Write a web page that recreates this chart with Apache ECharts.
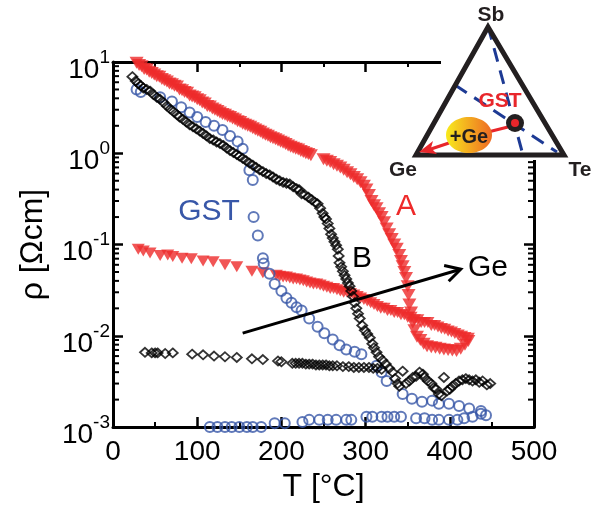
<!DOCTYPE html>
<html>
<head>
<meta charset="utf-8">
<script src="https://cdn.jsdelivr.net/npm/echarts@6/dist/echarts.min.js"></script>
<style>html,body{margin:0;padding:0;background:#fff}#c{width:608px;height:508px}</style>
</head>
<body>
<div id="c"></div>
<script>
// ---- data (T [°C], rho [Ohm cm]) ----
const seriesA_heating = [[28,9.8],[31,9.3],[34,9.0],[37,8.4],[40,8.3],[43,7.8],[46,7.6],[49,7.3],[52,7.0],[55,6.9],[58,6.5],[61,6.3],[64,6.1],[67,5.8],[70,5.7],[73,5.5],[76,5.4],[79,5.0],[82,4.9],[85,4.7],[88,4.6],[91,4.3],[94,4.2],[97,4.1],[100,3.9],[103,3.8],[106,3.6],[109,3.5],[112,3.3],[115,3.25],[118,3.1],[121,3.0],[124,2.9],[127,2.8],[130,2.7],[133,2.65],[136,2.55],[139,2.5],[142,2.4],[145,2.35],[148,2.25],[151,2.2],[154,2.1],[157,2.05],[160,2.0],[163,1.95],[166,1.88],[169,1.82],[172,1.76],[175,1.72],[178,1.65],[181,1.6],[184,1.56],[187,1.5],[190,1.46],[193,1.42],[196,1.38],[199,1.34],[202,1.3],[205,1.26],[208,1.22],[211,1.18],[214,1.15],[217,1.12],[220,1.1],[223,1.06],[226,1.03],[229,1.0],[232,0.98],[235,0.95],[250,0.86],[254,0.83],[258,0.8],[262,0.76],[266,0.73],[270,0.7],[274,0.66],[278,0.62],[282,0.59],[286,0.55],[290,0.52],[294,0.48],[298,0.44],[301,0.4],[304,0.35],[307,0.3],[310,0.27],[313,0.25],[316,0.22],[319,0.2],[322,0.175],[325,0.15],[328,0.13],[331,0.115],[334,0.1],[337,0.09],[340,0.077],[342,0.066],[344,0.058],[346,0.05],[348,0.043],[350,0.035],[351,0.028],[352,0.022],[354,0.018],[356,0.014],[358,0.0115],[361,0.0098],[365,0.009],[369,0.0082],[373,0.0077],[378,0.0075],[383,0.0074],[388,0.0072],[393,0.0071],[398,0.007],[403,0.0069],[408,0.0068],[413,0.0072],[418,0.008],[422,0.0088]];
const seriesA_cooling = [[30,0.089],[36,0.085],[44,0.081],[56,0.076],[65,0.077],[71,0.074],[82,0.071],[93,0.07],[107,0.066],[119,0.065],[133,0.06],[147,0.057],[165,0.051],[178,0.049],[194,0.046],[198,0.045],[202,0.044],[206,0.044],[210,0.043],[214,0.042],[218,0.042],[222,0.041],[226,0.04],[230,0.039],[234,0.038],[238,0.037],[242,0.037],[246,0.036],[250,0.035],[254,0.034],[258,0.033],[262,0.033],[266,0.032],[270,0.031],[274,0.03],[278,0.03],[282,0.029],[286,0.028],[290,0.027],[294,0.026],[298,0.025],[302,0.024],[306,0.023],[310,0.022],[314,0.021],[318,0.02],[322,0.02],[326,0.019],[330,0.019],[334,0.018],[338,0.018],[342,0.017],[346,0.017],[350,0.016],[354,0.016],[358,0.015],[362,0.015],[366,0.014],[370,0.014],[374,0.014],[378,0.013],[382,0.013],[386,0.0125],[390,0.012],[394,0.0118],[398,0.0113],[402,0.011],[406,0.0106],[410,0.0102],[414,0.0099],[418,0.0096],[422,0.0094]];
const seriesB_heating = [[23,6.9],[27,6.2],[30,5.8],[33,5.5],[36,5.2],[40,5.0],[44,4.8],[48,4.4],[52,4.1],[56,3.9],[60,3.6],[64,3.3],[68,3.05],[72,2.85],[76,2.65],[79,2.5],[83,2.35],[87,2.2],[91,2.05],[95,1.95],[99,1.85],[103,1.75],[107,1.65],[111,1.55],[115,1.45],[119,1.4],[123,1.33],[127,1.28],[131,1.22],[135,1.14],[139,1.07],[143,1.02],[147,0.97],[150,0.93],[154,0.88],[158,0.83],[162,0.78],[166,0.74],[170,0.7],[174,0.66],[178,0.63],[182,0.6],[186,0.58],[190,0.55],[194,0.52],[198,0.5],[202,0.48],[206,0.47],[210,0.46],[214,0.43],[218,0.41],[221,0.4],[224,0.36],[228,0.35],[232,0.33],[236,0.31],[240,0.29],[243,0.28],[246,0.25],[249,0.22],[251,0.2],[253,0.19],[255,0.17],[257,0.15],[259,0.13],[261,0.118],[263,0.107],[265,0.098],[267,0.089],[268,0.075],[269,0.063],[271,0.057],[273,0.051],[275,0.046],[277,0.042],[279,0.038],[281,0.035],[283,0.031],[285,0.027],[287,0.023],[289,0.02],[291,0.0175],[293,0.0155],[296,0.013],[299,0.0115],[302,0.0105],[305,0.0095],[308,0.0082],[310,0.0074],[313,0.0066],[316,0.0059],[320,0.0054],[324,0.0049],[328,0.0044],[332,0.004],[335,0.0034],[338,0.003],[340,0.0028],[344,0.0041],[348,0.003],[352,0.0032],[356,0.0035],[360,0.0036],[364,0.004],[368,0.0038],[370,0.0035],[374,0.0032],[378,0.003],[381,0.0027],[384,0.0026],[387,0.0023],[390,0.0022],[393,0.0035],[397,0.0025],[400,0.0026],[403,0.0028],[407,0.003],[411,0.0032],[415,0.0033],[419,0.0034],[423,0.0033],[427,0.0032],[431,0.0033],[435,0.0031],[439,0.0032],[444,0.0029],[448,0.003]];
const seriesB_cooling = [[38,0.0066],[46,0.0065],[50,0.0065],[53,0.0065],[62,0.0064],[71,0.0065],[94,0.0063],[107,0.0062],[120,0.006],[133,0.0059],[147,0.0058],[165,0.0056],[178,0.0055],[196,0.0053],[200,0.0052],[213,0.005],[217,0.005],[221,0.005],[225,0.005],[229,0.0049],[233,0.0049],[237,0.0049],[241,0.0048],[245,0.0048],[249,0.0048],[253,0.0048],[257,0.0047],[261,0.0047],[266,0.0047],[273,0.0046],[280,0.0046],[286,0.0045],[292,0.0045],[298,0.0045],[304,0.0045],[309,0.0044],[314,0.0044],[319,0.0043]];
const seriesGST_heating = [[28,5.0],[33,4.7],[56,4.1],[70,3.7],[81,3.2],[91,2.8],[100,2.5],[110,2.2],[120,2.0],[130,1.8],[139,1.55],[148,1.35],[154,1.12],[162,0.65],[166,0.51],[167,0.2],[172,0.126],[178,0.071],[179,0.062],[186,0.048],[192,0.037],[200,0.031],[206,0.026],[212,0.023],[218,0.0205],[224,0.019],[233,0.0155],[243,0.0126],[251,0.0107],[261,0.0091],[269,0.0079],[277,0.0071],[287,0.0067],[295,0.0063],[313,0.0047],[319,0.004],[325,0.0032],[344,0.0023],[355,0.00205],[367,0.0019],[379,0.00195],[387,0.0018],[399,0.0018],[411,0.0017],[423,0.0016],[437,0.0015],[443,0.00135]];
const seriesGST_cooling = [[115,0.001],[124,0.001],[133,0.001],[141,0.001],[150,0.001],[159,0.001],[166,0.001],[176,0.001],[192,0.0011],[204,0.0011],[225,0.00114],[233,0.0012],[245,0.0012],[255,0.0012],[265,0.0012],[277,0.0012],[283,0.0012],[301,0.0013],[308,0.0013],[319,0.0013],[326,0.0013],[334,0.0013],[342,0.0013],[360,0.00125],[370,0.00125],[379,0.0012],[387,0.0012],[399,0.0012],[409,0.0012],[417,0.00125],[427,0.0013],[437,0.0014]];
const geArrow = [[154, 0.0107, 413, 0.0537]];
const xTicks = [0, 100, 200, 300, 400, 500];
const yDecades = [0.001, 0.01, 0.1, 1];
const minorMultipliers = [2, 3, 4, 5, 6, 7, 8, 9];

const RED = '#ee2a2a', BLUE = '#3857a8', BLACK = '#000';
const FONT = 'Liberation Sans, Arial, Helvetica, sans-serif';

const minorTickValues = [];
yDecades.forEach(d => minorMultipliers.forEach(k => minorTickValues.push([0, k * d])));

const chart = echarts.init(document.getElementById('c'), null, {renderer: 'canvas'});

const xCommon = {
  type: 'value', min: xTicks[0], max: xTicks[xTicks.length - 1], interval: 100,
  axisLine: {show: true, onZero: false, lineStyle: {color: '#000', width: 3}},
  axisTick: {show: true, inside: true, length: 10, lineStyle: {color: '#000', width: 2.5}},
  minorTick: {show: true, splitNumber: 2, length: 5, lineStyle: {color: '#000', width: 2}},
  splitLine: {show: false}
};
const yCommon = {
  type: 'log', logBase: 10, min: 0.001, max: 10,
  axisLine: {show: true, onZero: false, lineStyle: {color: '#000', width: 3}},
  axisTick: {show: true, inside: true, length: 10, lineStyle: {color: '#000', width: 2.5}},
  splitLine: {show: false}
};

function hollow(color, w) { return {color: 'rgba(0,0,0,0)', borderColor: color, borderWidth: w}; }

const option = {
  backgroundColor: '#fff',
  animation: false,
  grid: {left: 113, right: 74, top: 62, bottom: 73, containLabel: false},
  xAxis: [
    Object.assign({}, xCommon, {
      position: 'bottom',
      name: 'T [°C]', nameLocation: 'middle', nameGap: 42,
      nameTextStyle: {fontSize: 32, fontFamily: FONT, color: '#000'},
      axisLabel: {show: true, fontSize: 28, fontFamily: FONT, color: '#000', margin: 11}
    }),
    Object.assign({}, xCommon, {position: 'top', axisLabel: {show: false}})
  ],
  yAxis: [
    Object.assign({}, yCommon, {
      position: 'left',
      name: 'ρ [Ωcm]', nameLocation: 'middle', nameGap: 64,
      nameTextStyle: {fontSize: 32, fontFamily: FONT, color: '#000'},
      axisLabel: {
        show: true, margin: 3, fontFamily: FONT, color: '#000', padding: [16, 0, 0, 0],
        formatter: function (v) { return '{b|10}{s|' + Math.round(Math.log10(v)) + '}'; },
        rich: {
          b: {fontSize: 28, lineHeight: 28, fontFamily: FONT, color: '#000', verticalAlign: 'bottom'},
          s: {fontSize: 19, lineHeight: 19, fontFamily: FONT, color: '#000', verticalAlign: 'bottom', padding: [0, 0, 17, 0]}
        }
      }
    }),
    Object.assign({}, yCommon, {position: 'right', axisLabel: {show: false}})
  ],
  series: [
    {
      type: 'custom', name: 'minorTicks', silent: true, z: 1, clip: false,
      data: minorTickValues,
      renderItem: function (params, api) {
        const v = api.value(1);
        const l = api.coord([0, v]);
        const r = api.coord([500, v]);
        return {type: 'group', children: [
          {type: 'line', shape: {x1: l[0], y1: l[1], x2: l[0] + 6, y2: l[1]}, style: {stroke: '#000', lineWidth: 2}},
          {type: 'line', shape: {x1: r[0] - 6, y1: r[1], x2: r[0], y2: r[1]}, style: {stroke: '#000', lineWidth: 2}}
        ]};
      }
    },
    {type: 'scatter', name: 'A heating', data: seriesA_heating, symbol: 'triangle', symbolRotate: 180, symbolSize: [14, 12], itemStyle: {color: RED}, z: 2},
    {type: 'scatter', name: 'A cooling', data: seriesA_cooling, symbol: 'triangle', symbolRotate: 180, symbolSize: [13, 11], itemStyle: {color: RED}, z: 2},
    {type: 'scatter', name: 'GST heating', data: seriesGST_heating, symbol: 'circle', symbolSize: 10, itemStyle: hollow(BLUE, 2), z: 3},
    {type: 'scatter', name: 'GST cooling', data: seriesGST_cooling, symbol: 'circle', symbolSize: 10, itemStyle: hollow(BLUE, 2), z: 3},
    {type: 'scatter', name: 'B heating', data: seriesB_heating, symbol: 'diamond', symbolSize: [10, 9], itemStyle: hollow(BLACK, 1.8), z: 4},
    {type: 'scatter', name: 'B cooling', data: seriesB_cooling, symbol: 'diamond', symbolSize: [10, 9], itemStyle: hollow(BLACK, 1.8), z: 4},
    {
      type: 'custom', name: 'Ge arrow', silent: true, z: 5, clip: false,
      data: geArrow,
      encode: {x: [0, 2], y: [1, 3]},
      renderItem: function (params, api) {
        const a = api.coord([api.value(0), api.value(1)]);
        const b = api.coord([api.value(2), api.value(3)]);
        const ang = Math.atan2(b[1] - a[1], b[0] - a[0]);
        const L = 17, w = 0.5;
        const p1 = [b[0] - L * Math.cos(ang - w), b[1] - L * Math.sin(ang - w)];
        const p2 = [b[0] - L * Math.cos(ang + w), b[1] - L * Math.sin(ang + w)];
        return {type: 'group', children: [
          {type: 'line', shape: {x1: a[0], y1: a[1], x2: b[0], y2: b[1]}, style: {stroke: '#000', lineWidth: 3}},
          {type: 'polyline', shape: {points: [p1, b, p2]}, style: {stroke: '#000', lineWidth: 3, fill: null}}
        ]};
      }
    }
  ],
  graphic: [
    {type: 'text', x: 209, y: 212, z: 10, style: {text: 'GST', fill: BLUE, font: '30px ' + FONT, textAlign: 'center', textVerticalAlign: 'middle'}},
    {type: 'text', x: 406, y: 207, z: 10, style: {text: 'A', fill: RED, font: '30px ' + FONT, textAlign: 'center', textVerticalAlign: 'middle'}},
    {type: 'text', x: 362, y: 259, z: 10, style: {text: 'B', fill: '#000', font: '30px ' + FONT, textAlign: 'center', textVerticalAlign: 'middle'}},
    {type: 'text', x: 488, y: 268, z: 10, style: {text: 'Ge', fill: '#000', font: '30px ' + FONT, textAlign: 'center', textVerticalAlign: 'middle'}},
    // inset
    {type: 'rect', z: 20, shape: {x: 441, y: 0, width: 167, height: 160}, style: {fill: '#fff'}},
    {type: 'line', z: 21, shape: {x1: 488, y1: 26, x2: 523, y2: 155}, style: {stroke: '#1d3a94', lineWidth: 3, lineDash: [14, 9]}},
    {type: 'line', z: 21, shape: {x1: 455, y1: 85, x2: 557, y2: 152}, style: {stroke: '#1d3a94', lineWidth: 3, lineDash: [14, 9]}},
    {type: 'polygon', z: 22, shape: {points: [[488, 27], [416, 155], [564, 155]]}, style: {stroke: '#231f20', lineWidth: 5, fill: null, lineJoin: 'miter'}},
    {type: 'line', z: 23, shape: {x1: 508, y1: 127, x2: 488, y2: 132}, style: {stroke: '#e8262b', lineWidth: 3}},
    {type: 'ellipse', z: 24, shape: {cx: 469, cy: 135, rx: 23, ry: 18}, style: {fill: new echarts.graphic.LinearGradient(0, 0, 1, 0, [{offset: 0, color: '#f8ea1c'}, {offset: 1, color: '#ee6a24'}])}},
    {type: 'text', z: 25, x: 469, y: 137, style: {text: '+Ge', fill: '#231f20', font: 'bold 20px ' + FONT, textAlign: 'center', textVerticalAlign: 'middle'}},
    {type: 'line', z: 23, shape: {x1: 449, y1: 143, x2: 431, y2: 149}, style: {stroke: '#e8262b', lineWidth: 3}},
    {type: 'polygon', z: 23, shape: {points: [[419, 152], [433, 141], [431, 148], [437, 154]]}, style: {fill: '#e8262b'}},
    {type: 'circle', z: 26, shape: {cx: 515, cy: 123, r: 9}, style: {fill: '#231f20'}},
    {type: 'circle', z: 27, shape: {cx: 515, cy: 123, r: 4}, style: {fill: '#e8262b'}},
    {type: 'text', z: 25, x: 500, y: 101, style: {text: 'GST', fill: '#e8262b', font: 'bold 21px ' + FONT, textAlign: 'center', textVerticalAlign: 'middle'}},
    {type: 'text', z: 25, x: 491, y: 15, style: {text: 'Sb', fill: '#231f20', font: 'bold 21px ' + FONT, textAlign: 'center', textVerticalAlign: 'middle'}},
    {type: 'text', z: 25, x: 403, y: 170, style: {text: 'Ge', fill: '#231f20', font: 'bold 21px ' + FONT, textAlign: 'center', textVerticalAlign: 'middle'}},
    {type: 'text', z: 25, x: 580, y: 170, style: {text: 'Te', fill: '#231f20', font: 'bold 21px ' + FONT, textAlign: 'center', textVerticalAlign: 'middle'}}
  ]
};
chart.setOption(option);
</script>
</body>
</html>
